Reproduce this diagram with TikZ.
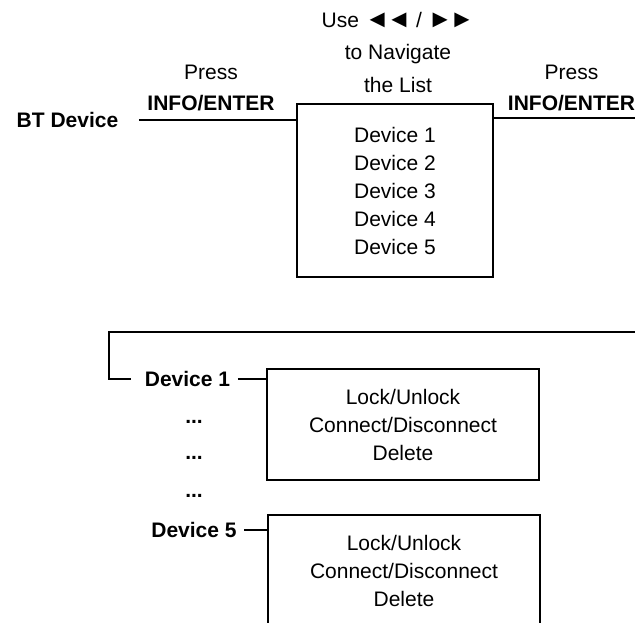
\documentclass[tikz,border=0pt]{standalone}
\usepackage{fontspec}
\setmainfont{Liberation Sans}
\newcommand{\tri}[1]{{\fontsize{12.5}{12.5}\selectfont #1\kern-1.5pt #1}}
\usetikzlibrary{positioning}
\tikzset{
  menubox/.style={draw,line width=1pt,align=center,inner sep=0pt,
    minimum width=136pt,minimum height=55.5pt},
  lbl/.style={font=\fontsize{10.5}{14}\selectfont\bfseries},
  hint/.style={align=center,font=\fontsize{10.5}{15.5}\selectfont},
}
\begin{document}
\begin{tikzpicture}[x=0.5pt,y=-0.5pt,line width=1pt,font=\fontsize{10.5}{14}\selectfont]
\useasboundingbox (0,0) rectangle (635,622);
%\draw[help lines] (0,0) grid[step=50] (635,622);
% first screen: device list
\node[draw,align=center,inner sep=0pt,minimum width=98pt,minimum height=86.5pt]
  (list) at (395,190.5) {Device 1\\Device 2\\Device 3\\Device 4\\Device 5};
\node[lbl] (bt) at (67.5,120) {BT Device};
\node[hint,font=\fontsize{10.5}{16.25}\selectfont] (nav) at (398,52)
  {Use \tri{◄}\kern-.5pt\ / \tri{►}\\to Navigate\\the List};
\node[hint] (pressL) at (211,88) {Press\\\textbf{INFO/ENTER}};
\node[hint] (pressR) at (571.5,88) {Press\\\textbf{INFO/ENTER}};
\coordinate (outR) at (635,118);
\coordinate (inR) at (635,332);
\draw[shorten <=6.5pt] (bt.east) -- (bt.east -| list.west);
\draw (list.east |- outR) -- (outR);
%
% second screen: options per device
\node[lbl] (dev1) at (187.5,379) {Device 1};
\node[lbl] (dev5) at (194,530) {Device 5};
\foreach \y/\n in {422/a,458/b,496/c}
  \node[lbl] (dots\n) at (194,\y) {...};
\node[menubox] (opt1) at (403,424.5) {Lock/Unlock\\Connect/Disconnect\\Delete};
\node[menubox] (opt5) at (404,570.5) {Lock/Unlock\\Connect/Disconnect\\Delete};
\draw[shorten >=3pt] (inR) -- (109,332) |- (dev1.west);
\draw (dev1.east) -- (dev1.east -| opt1.west);
\draw (dev5.east) -- (dev5.east -| opt5.west);
\end{tikzpicture}
\end{document}
